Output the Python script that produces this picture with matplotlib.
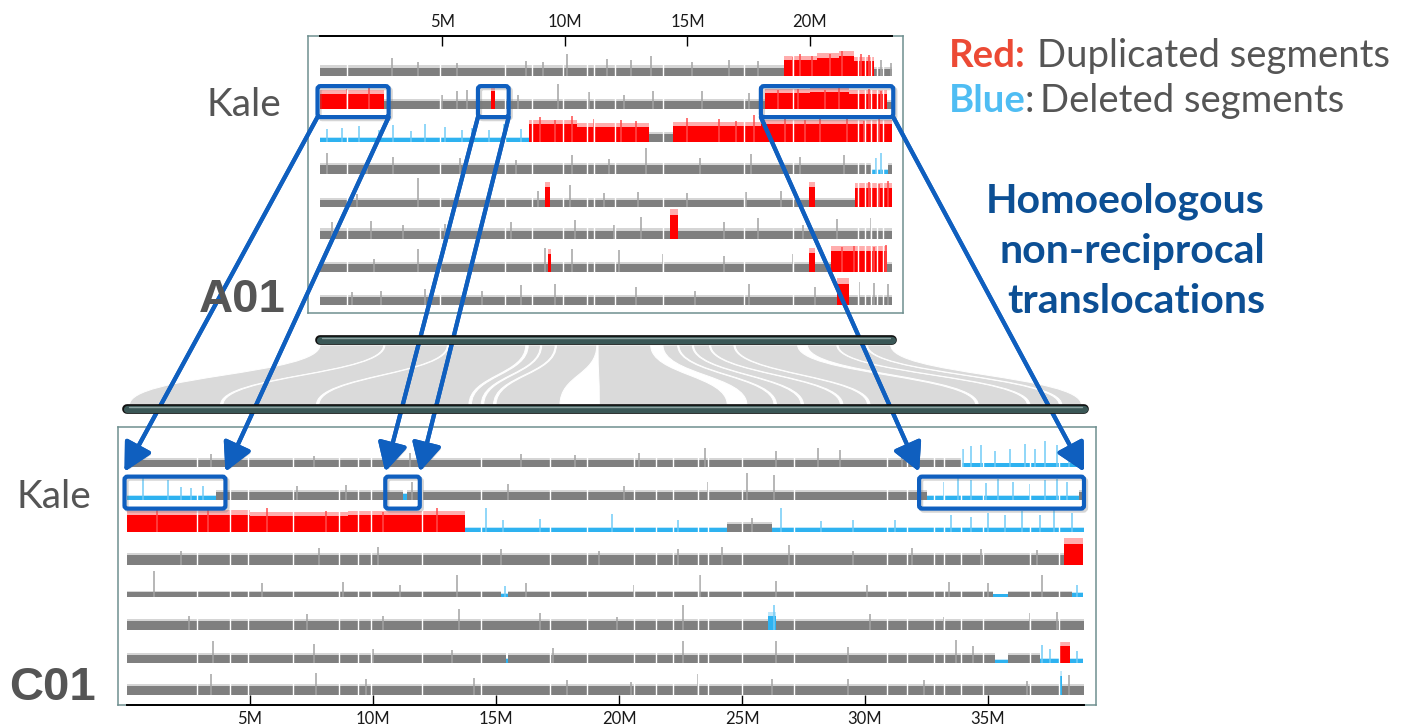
import matplotlib
matplotlib.use("Agg")
import matplotlib.pyplot as plt
import matplotlib.patheffects as pe
from matplotlib.patches import FancyArrowPatch, FancyBboxPatch, PathPatch
from matplotlib.path import Path

plt.rcParams['font.family'] = ['Lato', 'DejaVu Sans']

W, H = 1407, 727

# Chromosome lengths in Mb
A01_LEN = 23.35
C01_LEN = 38.9
A01_TICKS = [5, 10, 15, 20]
C01_TICKS = [5, 10, 15, 20, 25, 30, 35]

# Coverage segments per line: (start Mb, end Mb, state, relative coverage)
# state: 'n' normal, 'd' duplicated, 'x' deleted
a01_segments = [
    [(0, 18.95, 'n', 1.0), (18.95, 20.3, 'd', 1.9), (20.3, 21.2, 'd', 2.1), (21.2, 21.8, 'd', 2.3),
     (21.8, 22.6, 'd', 1.8), (22.6, 23.35, 'n', 0.9)],
    [(0, 2.6, 'd', 1.7), (2.6, 7.0, 'n', 0.9), (7.0, 7.15, 'd', 2.0), (7.15, 18.15, 'n', 0.9),
     (18.15, 20.0, 'd', 1.8), (20.0, 21.6, 'd', 1.9), (21.6, 23.15, 'd', 1.7), (23.15, 23.35, 'n', 0.8)],
    [(0, 8.55, 'x', 0.45), (8.55, 10.5, 'd', 2.0), (10.5, 13.45, 'd', 1.7), (13.45, 14.4, 'n', 0.9),
     (14.4, 18.0, 'd', 1.8), (18.0, 23.35, 'd', 2.0)],
    [(0, 22.5, 'n', 1.0), (22.5, 23.2, 'x', 0.5), (23.2, 23.35, 'n', 1.0)],
    [(0, 9.2, 'n', 0.8), (9.2, 9.4, 'd', 2.3), (9.4, 19.95, 'n', 0.8), (19.95, 20.2, 'd', 2.3),
     (20.2, 21.85, 'n', 0.8), (21.85, 23.35, 'd', 2.2)],
    [(0, 14.3, 'n', 1.0), (14.3, 14.6, 'd', 2.8), (14.6, 23.35, 'n', 1.0)],
    [(0, 9.3, 'n', 0.9), (9.3, 9.45, 'd', 2.1), (9.45, 19.95, 'n', 0.9), (19.95, 20.2, 'd', 2.2),
     (20.2, 20.85, 'n', 0.9), (20.85, 23.15, 'd', 2.4), (23.15, 23.35, 'n', 0.9)],
    [(0, 21.1, 'n', 0.9), (21.1, 21.6, 'd', 2.4), (21.6, 23.35, 'n', 0.9)],
]

# Peaks above the band: (position Mb, relative coverage)
a01_spikes = [
    [(2.95, 2.1), (4.0, 1.7), (5.6, 1.5), (8.4, 1.8), (9.1, 1.7), (10.1, 2.6), (11.7, 2.0), (12.7, 1.9),
     (13.5, 2.3), (15.2, 1.6), (16.7, 1.9), (17.9, 1.8), (19.3, 2.2), (19.6, 2.6), (20.1, 2.3),
     (20.8, 2.5), (21.3, 2.9), (22.1, 2.6), (22.4, 2.4), (22.9, 1.9), (23.3, 1.5)],
    [(1.1, 2.3), (2.0, 2.5), (5.0, 1.6), (5.6, 2.0), (6.0, 2.2), (8.1, 1.6), (9.7, 2.8), (11.0, 1.9),
     (12.4, 1.6), (13.6, 2.0), (15.6, 2.0), (17.5, 1.8), (18.7, 2.2), (19.5, 2.3), (20.6, 2.2),
     (21.2, 2.4), (22.4, 2.3), (22.9, 2.1)],
    [(0.3, 1.4), (0.9, 1.6), (1.6, 1.8), (2.4, 1.3), (3.0, 1.9), (3.7, 1.2), (4.3, 2.0), (5.1, 1.7),
     (5.8, 1.3), (6.2, 1.5), (6.9, 1.3), (7.5, 2.0), (8.2, 1.4), (9.0, 2.8), (9.6, 2.5), (10.3, 2.9),
     (11.2, 2.6), (12.3, 2.5), (12.9, 2.3), (15.0, 2.7), (16.3, 2.6), (17.0, 2.3), (17.7, 3.0),
     (19.0, 2.8), (19.8, 2.5), (20.4, 3.0), (21.5, 2.6), (22.2, 2.4), (22.8, 2.9)],
    [(0.3, 2.4), (1.9, 1.6), (3.0, 2.0), (5.7, 1.9), (8.0, 1.6), (10.3, 2.2), (11.8, 1.7), (13.3, 3.0),
     (15.5, 1.8), (17.6, 2.3), (19.6, 2.0), (21.4, 2.2), (22.7, 1.8), (22.9, 2.4)],
    [(1.5, 1.5), (4.0, 3.3), (6.9, 1.5), (8.9, 1.8), (10.2, 2.5), (11.6, 1.6), (13.0, 1.7), (15.0, 1.6),
     (17.4, 1.7), (18.8, 1.8), (22.4, 2.8), (22.8, 2.6), (23.2, 2.9)],
    [(0.5, 2.0), (2.1, 2.1), (3.4, 1.6), (5.1, 1.8), (7.8, 2.0), (10.4, 2.2), (12.0, 1.7), (13.1, 2.6),
     (16.5, 2.0), (17.9, 2.4), (19.7, 1.7), (21.1, 2.3), (22.5, 2.4)],
    [(2.2, 1.5), (4.0, 2.6), (9.2, 2.7), (10.3, 2.6), (12.2, 2.5), (14.0, 2.0), (16.5, 1.8), (19.3, 2.0),
     (21.3, 2.9), (21.8, 3.0), (22.6, 2.8), (23.1, 3.1)],
    [(1.3, 1.4), (2.5, 1.6), (4.3, 1.8), (6.6, 1.5), (8.2, 2.2), (9.6, 2.3), (12.9, 2.0), (15.3, 1.6),
     (17.5, 2.3), (20.2, 2.0), (22.0, 2.6), (22.6, 2.5), (23.2, 2.4)],
]

# Assembly gaps (Mb)
a01_gaps = [1.12, 4.9, 7.55, 8.65, 9.9, 10.9, 11.2, 12.05, 14.0, 17.3, 19.3, 21.95, 22.25, 22.5, 22.75, 23.0]

c01_segments = [
    [(0, 33.9, 'n', 0.8), (33.9, 38.75, 'x', 0.4), (38.75, 38.9, 'n', 0.8)],
    [(0, 3.6, 'x', 0.4), (3.6, 11.2, 'n', 0.9), (11.2, 11.4, 'x', 0.6), (11.4, 32.5, 'n', 0.9),
     (32.5, 38.7, 'x', 0.45), (38.7, 38.9, 'n', 0.9)],
    [(0, 5.0, 'd', 2.0), (5.0, 9.0, 'd', 1.8), (9.0, 13.75, 'd', 1.9), (13.75, 24.4, 'x', 0.45),
     (24.4, 26.2, 'n', 0.9), (26.2, 38.9, 'x', 0.5)],
    [(0, 38.1, 'n', 1.1), (38.1, 38.85, 'd', 2.4)],
    [(0, 15.2, 'n', 0.6), (15.2, 15.5, 'x', 0.4), (15.5, 35.2, 'n', 0.6), (35.2, 35.8, 'x', 0.35),
     (35.8, 38.4, 'n', 0.6), (38.4, 38.85, 'x', 0.45)],
    [(0, 26.05, 'n', 1.0), (26.05, 26.4, 'x', 1.6), (26.4, 38.9, 'n', 1.0)],
    [(0, 15.4, 'n', 0.9), (15.4, 15.5, 'x', 0.4), (15.5, 35.3, 'n', 0.9), (35.3, 35.8, 'x', 0.35),
     (35.8, 37.1, 'n', 0.9), (37.1, 37.9, 'x', 0.4), (37.9, 38.35, 'd', 1.9), (38.35, 38.85, 'x', 0.45)],
    [(0, 37.9, 'n', 1.0), (37.9, 38.0, 'x', 2.2), (38.0, 38.9, 'n', 1.0)],
]

c01_spikes = [
    [(3.4, 1.5), (7.6, 1.3), (11.5, 1.6), (16.0, 1.5), (18.2, 1.4), (20.8, 1.6), (23.5, 2.2), (26.4, 1.8),
     (28.1, 2.2), (29.0, 1.9), (31.5, 1.4), (34.0, 2.0), (34.3, 2.4), (34.7, 2.5), (35.3, 1.8),
     (35.9, 2.0), (36.5, 2.6), (36.9, 2.1), (37.3, 3.0), (37.8, 2.5), (38.3, 2.2)],
    [(0.65, 2.6), (1.67, 2.2), (2.2, 1.4), (2.6, 1.3), (3.1, 1.5), (6.9, 1.5), (8.9, 1.7), (11.6, 2.0),
     (15.5, 1.8), (20.2, 1.6), (23.6, 2.0), (25.2, 3.0), (26.3, 2.8), (33.2, 2.0), (33.8, 2.7),
     (34.3, 2.2), (34.9, 1.9), (35.4, 2.3), (36.0, 2.0), (36.7, 1.8), (37.3, 2.2), (37.8, 2.3),
     (38.2, 2.0)],
    [(1.2, 2.6), (3.3, 2.5), (5.7, 2.8), (8.1, 2.4), (10.4, 2.3), (12.6, 2.8), (14.6, 2.7), (15.3, 1.4),
     (16.8, 1.5), (19.7, 2.1), (22.4, 1.4), (25.4, 1.6), (26.6, 2.7), (28.2, 1.3), (29.5, 1.4),
     (31.2, 1.4), (33.5, 2.0), (34.3, 1.7), (35.0, 2.2), (35.7, 1.9), (36.4, 2.4), (37.1, 2.0),
     (37.7, 2.5), (38.4, 2.2)],
    [(2.2, 1.6), (7.8, 1.9), (10.2, 2.0), (15.2, 1.8), (19.2, 1.6), (22.4, 1.8), (24.2, 2.0), (26.9, 2.3),
     (29.5, 1.6), (31.9, 1.9), (34.7, 1.8), (37.0, 1.7)],
    [(1.1, 3.0), (5.5, 1.6), (8.8, 1.7), (11.1, 1.4), (13.4, 2.5), (15.35, 1.3), (16.2, 1.6), (20.6, 1.4),
     (23.3, 2.6), (26.4, 1.9), (30.1, 1.4), (33.4, 1.8), (35.0, 1.6), (37.2, 2.6), (38.6, 1.4)],
    [(2.5, 1.6), (7.3, 1.8), (10.4, 1.6), (13.5, 2.4), (16.8, 1.9), (19.9, 1.5), (22.6, 2.8), (26.3, 2.8),
     (30.2, 1.8), (33.2, 1.5), (36.7, 1.9), (37.8, 2.1)],
    [(3.5, 2.5), (7.6, 2.1), (10.0, 1.6), (13.2, 1.4), (17.3, 1.7), (22.6, 2.4), (26.4, 2.5), (29.3, 1.8),
     (33.7, 2.6), (34.4, 1.9), (37.2, 2.0), (37.5, 1.6), (38.6, 1.3)],
    [(3.4, 2.4), (7.7, 2.5), (9.7, 1.8), (14.1, 1.9), (17.9, 1.7), (20.5, 1.5), (23.2, 2.4), (26.2, 1.8),
     (29.3, 1.8), (32.4, 1.7), (36.6, 1.6), (38.3, 2.3)],
]

c01_gaps = [2.85, 4.2, 4.9, 6.75, 8.6, 9.4, 9.9, 12.0, 14.4, 17.2, 18.7, 20.6, 21.5, 22.2, 23.2, 23.6,
            25.0, 27.1, 30.9, 31.7, 32.8, 33.2, 33.9, 34.8, 36.7, 37.9]

# Translocated segments boxed on the second line (Mb)
a01_boxes = [(0.0, 2.7), (6.55, 7.6), (18.1, 23.3)]
c01_boxes = [(0.0, 3.9), (10.6, 11.8), (32.3, 38.8)]

# Syntenic blocks: (A01 start, A01 end, C01 start, C01 end) in Mb
synteny = [
    (0.0, 2.6, 0.1, 3.8), (2.65, 5.2, 3.9, 7.7), (5.25, 8.4, 7.8, 13.9), (8.5, 9.0, 14.0, 14.4),
    (9.05, 9.6, 14.5, 14.9), (9.65, 11.3, 15.0, 17.6), (11.35, 13.5, 19.2, 24.4), (14.0, 14.6, 25.2, 26.3),
    (14.65, 15.2, 26.4, 27.4), (15.25, 15.9, 27.5, 29.0), (15.95, 16.9, 29.1, 30.1), (16.95, 19.5, 30.2, 34.5),
    (19.9, 21.1, 34.6, 36.6), (21.15, 22.3, 36.7, 37.9), (22.35, 23.3, 38.0, 38.8),
]

FILL = {'n': '#7f7f7f', 'd': '#ff0000', 'x': '#2eb2f0'}
PEAK = {'n': '#a3a3a3', 'd': '#ff4a4a', 'x': '#72cbf6'}
LEVEL = 0.27  # line units per unit of coverage
ARROW_BLUE = '#0f5fbf'
TEXT_GREY = '#555555'

fig = plt.figure(figsize=(W / 100, H / 100), dpi=100)


def px_axes(x0, y0, x1, y1):
    return fig.add_axes([x0 / W, 1 - y1 / H, (x1 - x0) / W, (y1 - y0) / H])


def state_at(segs, pos):
    for s, e, st, lv in segs:
        if s <= pos <= e:
            return st
    return 'n'


def draw_lines(ax, segments, spikes, gaps):
    for i, (segs, peaks) in enumerate(zip(segments, spikes)):
        base = 7 - i
        for s, e, st, lv in segs:
            # soft fringe above the band for the ragged top of the coverage
            ax.bar(s, lv * LEVEL * 1.25, width=e - s, bottom=base, align='edge',
                   color=PEAK[st], alpha=0.45, linewidth=0)
            ax.bar(s, lv * LEVEL, width=e - s, bottom=base, align='edge',
                   color=FILL[st], linewidth=0)
        for p, lv in peaks:
            ax.vlines(p, base, base + lv * LEVEL, color=PEAK[state_at(segs, p)], lw=1.1)
        ax.vlines(gaps, base, base + 3.5 * LEVEL, color='white', lw=1.0)


def style_panel(ax, length, ticks, top):
    for sp in ax.spines.values():
        sp.set_color('#6f8f8f')
        sp.set_linewidth(1.1)
    y = ax.get_ylim()[1] if top else ax.get_ylim()[0]
    ax.plot([0, length], [y, y], color='black', lw=1.4, clip_on=False, zorder=5)
    ax.set_xticks(ticks, [f"{t}M" for t in ticks])
    ax.set_yticks([])
    ax.tick_params(axis='x', direction='in', length=7, width=1, color='black',
                   top=top, bottom=not top, labeltop=top, labelbottom=not top,
                   labelsize=12, labelcolor='#1a1a1a', pad=4)


# Coverage panels
ax_top = px_axes(308, 36, 903, 313)
ax_top.set_xlim(-0.49, 23.8)
ax_top.set_ylim(-0.255, 8.242)
draw_lines(ax_top, a01_segments, a01_spikes, a01_gaps)
style_panel(ax_top, A01_LEN, A01_TICKS, top=True)

ax_bot = px_axes(118, 427, 1096, 705)
ax_bot.set_xlim(-0.366, 39.39)
ax_bot.set_ylim(-0.30, 8.227)
draw_lines(ax_bot, c01_segments, c01_spikes, c01_gaps)
style_panel(ax_bot, C01_LEN, C01_TICKS, top=False)

# Overlay in pixel coordinates for ribbons, arrows and text
ov = fig.add_axes([0, 0, 1, 1])
ov.set_xlim(0, W)
ov.set_ylim(H, 0)
ov.axis('off')
ov.patch.set_visible(False)
ov.set_zorder(5)


def to_ov(ax, x, y):
    return ov.transData.inverted().transform(ax.transData.transform((x, y)))


def xa(mb):
    return to_ov(ax_top, mb, 0)[0]


def xc(mb):
    return to_ov(ax_bot, mb, 0)[0]


# Synteny ribbons between the two chromosome bars
yt, yb = 345, 405
ym = (yt + yb) / 2
for a0, a1, c0, c1 in synteny:
    verts = [(xa(a0), yt), (xa(a0), ym), (xc(c0), ym), (xc(c0), yb), (xc(c1), yb),
             (xc(c1), ym), (xa(a1), ym), (xa(a1), yt), (xa(a0), yt)]
    codes = [Path.MOVETO, Path.CURVE4, Path.CURVE4, Path.CURVE4, Path.LINETO,
             Path.CURVE4, Path.CURVE4, Path.CURVE4, Path.CLOSEPOLY]
    ov.add_patch(PathPatch(Path(verts, codes), facecolor='#dadada', edgecolor='white', lw=0.7))

# Chromosome bars
for x0, x1, y in [(xa(0), xa(A01_LEN), 340), (xc(0), xc(C01_LEN), 408.5)]:
    ov.plot([x0, x1], [y, y], color='#111111', lw=7, solid_capstyle='round')
    ov.plot([x0, x1], [y, y], color='#3a5756', lw=5.2, solid_capstyle='round')
    ov.plot([x0 + 2, x1 - 2], [y - 1.6, y - 1.6], color='#8ea3a2', lw=1.0, solid_capstyle='round')

arrow_fx = [pe.withSimplePatchShadow(offset=(1.5, -1.5), shadow_rgbFace='#777777', alpha=0.3), pe.Normal()]
box_fx = [pe.SimpleLineShadow(offset=(1.5, -1.5), shadow_color='#777777', alpha=0.3), pe.Normal()]

# Boxes on line 2 of each panel and arrows linking them
top_base = to_ov(ax_top, 0, 6)[1]
bot_base = to_ov(ax_bot, 0, 6)[1]
pad = 2.5
for (a0, a1), (c0, c1) in zip(a01_boxes, c01_boxes):
    bx0, bx1 = xa(a0) - pad, xa(a1) + pad
    by0, by1 = top_base - 23, top_base + 8
    cx0, cx1 = xc(c0) - pad, xc(c1) + pad
    cy0, cy1 = bot_base - 23, bot_base + 9
    for x0, y0, x1, y1 in [(bx0, by0, bx1, by1), (cx0, cy0, cx1, cy1)]:
        box = FancyBboxPatch((x0, y0), x1 - x0, y1 - y0, boxstyle='round,pad=0,rounding_size=3',
                             facecolor='none', edgecolor=ARROW_BLUE, lw=3, path_effects=box_fx)
        ov.add_patch(box)
    tip_y = cy0 - 5
    for sx, ex in [(bx0, cx0), (bx1, cx1)]:
        arr = FancyArrowPatch((sx, by1), (ex, tip_y),
                              arrowstyle='-|>,head_length=0.95,head_width=0.5', mutation_scale=18,
                              color=ARROW_BLUE, lw=3, shrinkA=0, shrinkB=0, path_effects=arrow_fx)
        ov.add_patch(arr)

# Labels
ov.text(207, 116, 'Kale', fontsize=28, color=TEXT_GREY, va='baseline', ha='left')
ov.text(17, 508, 'Kale', fontsize=28, color=TEXT_GREY, va='baseline', ha='left')
ov.text(199, 312, 'A01', fontsize=34, fontweight='bold', family='Liberation Sans',
        color=TEXT_GREY, va='baseline', ha='left')
ov.text(9, 700, 'C01', fontsize=34, fontweight='bold', family='Liberation Sans',
        color=TEXT_GREY, va='baseline', ha='left')

# Colour key
ov.text(949, 67, 'Red:', fontsize=27.5, fontweight='bold', color='#ec4a35', va='baseline')
ov.text(1037, 67, 'Duplicated segments', fontsize=27.5, color=TEXT_GREY, va='baseline')
ov.text(949, 112, 'Blue', fontsize=27.5, fontweight='bold', color='#4fbdf3', va='baseline')
ov.text(1025, 112, ':', fontsize=27.5, color=TEXT_GREY, va='baseline')
ov.text(1040, 112, 'Deleted segments', fontsize=27.5, color=TEXT_GREY, va='baseline')

for y, line in zip([213, 263, 313], ['Homoeologous', 'non-reciprocal', 'translocations']):
    ov.text(1265, y, line, fontsize=29.5, fontweight='bold', color='#0c4f94', va='baseline', ha='right')

fig.savefig('out.png', dpi=100)
